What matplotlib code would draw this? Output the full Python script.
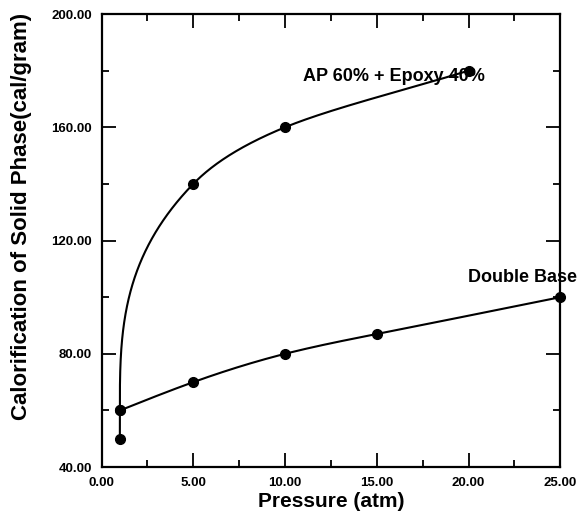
import numpy as np
import matplotlib
matplotlib.use("Agg")
import matplotlib.pyplot as plt
from matplotlib.ticker import MultipleLocator, FormatStrFormatter

# ---- data ----
ap_pressure = [1, 1, 5, 10, 20]
ap_heat = [50, 60, 140, 160, 180]
db_pressure = [1, 5, 10, 15, 25]
db_heat = [60, 70, 80, 87, 100]
ap_label = "AP 60% + Epoxy 40%"
db_label = "Double Base"
x_label = "Pressure (atm)"
y_label = "Calorification of Solid Phase(cal/gram)"


def natural_spline(xk, yk, xs):
    """Natural cubic spline through knots (xk ascending)."""
    xk = np.asarray(xk, float)
    yk = np.asarray(yk, float)
    n = len(xk)
    h = np.diff(xk)
    A = np.zeros((n, n))
    b = np.zeros(n)
    A[0, 0] = 1
    A[-1, -1] = 1
    for i in range(1, n - 1):
        A[i, i - 1] = h[i - 1]
        A[i, i] = 2 * (h[i - 1] + h[i])
        A[i, i + 1] = h[i]
        b[i] = 6 * ((yk[i + 1] - yk[i]) / h[i] - (yk[i] - yk[i - 1]) / h[i - 1])
    M = np.linalg.solve(A, b)
    idx = np.clip(np.searchsorted(xk, xs) - 1, 0, n - 2)
    x0, x1 = xk[idx], xk[idx + 1]
    y0, y1 = yk[idx], yk[idx + 1]
    m0, m1 = M[idx], M[idx + 1]
    hh = x1 - x0
    t0 = x1 - xs
    t1 = xs - x0
    return (m0 * t0 ** 3 / (6 * hh) + m1 * t1 ** 3 / (6 * hh)
            + (y0 / hh - m0 * hh / 6) * t0 + (y1 / hh - m1 * hh / 6) * t1)


def hermite_monotone(xk, yk, xs):
    """Cubic Hermite spline, averaged-secant slopes, zeroed at flat/turning knots."""
    xk = np.asarray(xk, float)
    yk = np.asarray(yk, float)
    d = np.diff(yk) / np.diff(xk)
    m = np.empty_like(yk)
    m[0] = d[0]
    m[-1] = d[-1]
    m[1:-1] = 0.5 * (d[:-1] + d[1:])
    flat = d[:-1] * d[1:] <= 0
    m[1:-1][flat] = 0.0
    idx = np.clip(np.searchsorted(xk, xs) - 1, 0, len(xk) - 2)
    h = xk[idx + 1] - xk[idx]
    t = (xs - xk[idx]) / h
    h00 = 2 * t ** 3 - 3 * t ** 2 + 1
    h10 = t ** 3 - 2 * t ** 2 + t
    h01 = -2 * t ** 3 + 3 * t ** 2
    h11 = t ** 3 - t ** 2
    return (h00 * yk[idx] + h10 * h * m[idx] + h01 * yk[idx + 1]
            + h11 * h * m[idx + 1])


fig = plt.figure(figsize=(5.8, 5.19), dpi=100)
ax = fig.add_axes([0.175, 0.100, 0.791, 0.873])

LW = 1.5
# AP curve: pressure as a smooth function of heat
yy = np.linspace(ap_heat[0], ap_heat[-1], 800)
xx = hermite_monotone(ap_heat, ap_pressure, yy)
ax.plot(xx, yy, color="black", lw=LW)
ax.plot(ap_pressure, ap_heat, "o", color="black", ms=7, clip_on=False)

# Double base curve
xd = np.linspace(db_pressure[0], db_pressure[-1], 400)
yd = natural_spline(db_pressure, db_heat, xd)
ax.plot(xd, yd, color="black", lw=LW)
ax.plot(db_pressure, db_heat, "o", color="black", ms=7, clip_on=False, zorder=5)

ax.set_xlim(0, 25)
ax.set_ylim(40, 200)
ax.xaxis.set_major_locator(MultipleLocator(5))
ax.xaxis.set_minor_locator(MultipleLocator(2.5))
ax.yaxis.set_major_locator(MultipleLocator(40))
ax.yaxis.set_minor_locator(MultipleLocator(20))
ax.xaxis.set_major_formatter(FormatStrFormatter("%.2f"))
ax.yaxis.set_major_formatter(FormatStrFormatter("%.2f"))
ax.tick_params(which="both", direction="in", top=True, right=True, width=1.3)
ax.tick_params(which="major", length=10)
ax.tick_params(which="minor", length=5)
ax.tick_params(axis="x", pad=7)
ax.tick_params(axis="y", pad=7)
for s in ax.spines.values():
    s.set_linewidth(1.6)

fam = ["Liberation Sans", "DejaVu Sans"]
for lab in ax.get_xticklabels() + ax.get_yticklabels():
    lab.set_fontfamily(fam)
    lab.set_fontweight("bold")
    lab.set_fontsize(9.5)

ax.set_xlabel(x_label, fontsize=15, fontweight="bold", family=fam, labelpad=2)
ax.set_ylabel(y_label, fontsize=16, fontweight="bold", family=fam)
ax.yaxis.set_label_coords(-0.151, 0.554)

ax.text(11.0, 178, ap_label, fontsize=13, fontweight="bold", family=fam,
        va="center", ha="left")
ax.text(19.95, 107, db_label, fontsize=13, fontweight="bold", family=fam,
        va="center", ha="left", clip_on=False)

fig.savefig("out.png", dpi=100)
